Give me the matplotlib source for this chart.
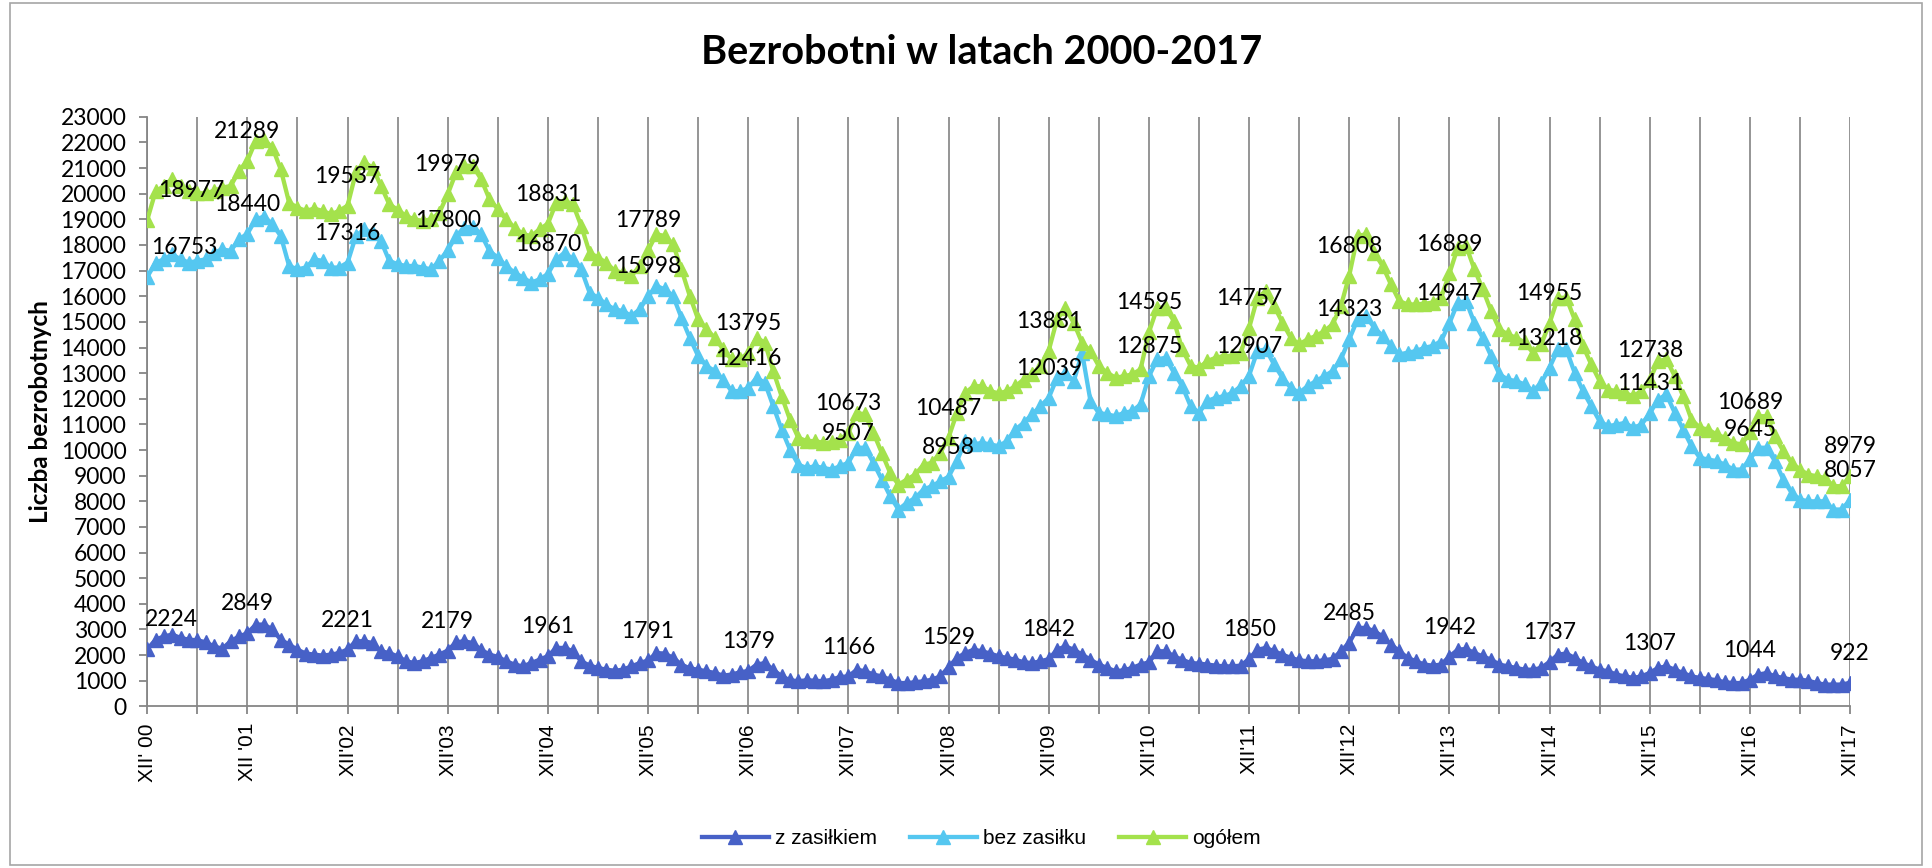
import numpy as np
import matplotlib
matplotlib.use('Agg')
import matplotlib.pyplot as plt
from matplotlib.lines import Line2D
from matplotlib.patches import Rectangle

# monthly values, XII 2000 .. XII 2017
z_zasilkiem = [
    2224, 2600, 2730, 2800, 2670, 2600, 2580, 2500, 2340, 2250, 2540, 2730,
    2849, 3190, 3190, 3000, 2600, 2410, 2210, 2060, 2020, 1980, 2020, 2080,
    2221, 2540, 2540, 2470, 2150, 2080, 1950, 1760, 1690, 1760, 1890, 2020,
    2179, 2500, 2540, 2470, 2210, 2020, 1930, 1760, 1630, 1560, 1690, 1820,
    1961, 2280, 2280, 2150, 1760, 1590, 1500, 1430, 1390, 1430, 1560, 1690,
    1791, 2080, 2060, 1890, 1630, 1480, 1430, 1370, 1300, 1200, 1240, 1330,
    1379, 1630, 1690, 1430, 1170, 1020, 980, 1020, 1000, 980, 1040, 1150,
    1166, 1430, 1370, 1240, 1170, 1040, 910, 910, 940, 980, 1040, 1170,
    1529, 1890, 2080, 2210, 2150, 2060, 1950, 1890, 1820, 1720, 1690, 1760,
    1842, 2210, 2340, 2210, 2020, 1820, 1630, 1500, 1370, 1410, 1500, 1630,
    1720, 2150, 2150, 1950, 1820, 1690, 1670, 1630, 1590, 1560, 1560, 1590,
    1850, 2210, 2280, 2150, 2020, 1890, 1800, 1760, 1760, 1800, 1850, 2150,
    2485, 3060, 3060, 2930, 2730, 2410, 2150, 1890, 1760, 1630, 1590, 1630,
    1942, 2210, 2240, 2080, 1950, 1820, 1630, 1560, 1500, 1430, 1430, 1500,
    1737, 2020, 2060, 1890, 1690, 1560, 1430, 1370, 1240, 1170, 1110, 1170,
    1307, 1500, 1560, 1430, 1300, 1170, 1110, 1070, 1020, 940, 910, 910,
    1044, 1240, 1300, 1170, 1110, 1040, 1040, 1000, 910, 850, 850, 850,
    922]

bez_zasilku = [
    16753, 17310, 17440, 17630, 17440, 17310, 17380, 17440, 17700, 17830, 17770, 18220,
    18440, 19000, 19110, 18810, 18350, 17180, 17050, 17120, 17440, 17380, 17120, 17120,
    17316, 18350, 18610, 18480, 18160, 17380, 17250, 17180, 17180, 17120, 17050, 17380,
    17800, 18350, 18680, 18720, 18420, 17770, 17500, 17180, 16920, 16730, 16530, 16660,
    16870, 17440, 17700, 17440, 17050, 16140, 15940, 15680, 15490, 15420, 15230, 15490,
    15998, 16400, 16270, 16010, 15160, 14380, 13670, 13280, 13080, 12750, 12300, 12300,
    12416, 12820, 12620, 11710, 10800, 10020, 9430, 9300, 9370, 9300, 9240, 9370,
    9507, 10090, 10090, 9500, 8850, 8200, 7680, 7940, 8130, 8460, 8590, 8780,
    8958, 9570, 10350, 10220, 10280, 10220, 10150, 10350, 10800, 11060, 11390, 11710,
    12039, 12820, 13020, 12690, 13800, 11910, 11450, 11390, 11320, 11450, 11520, 11780,
    12875, 13540, 13600, 13020, 12490, 11710, 11450, 11910, 12040, 12100, 12230, 12490,
    12907, 13860, 13930, 13340, 12820, 12430, 12230, 12490, 12690, 12880, 13080, 13540,
    14323, 15100, 15230, 14770, 14450, 14060, 13730, 13800, 13860, 13990, 14060, 14250,
    14947, 15750, 15810, 14960, 14380, 13670, 12950, 12750, 12690, 12560, 12300, 12620,
    13218, 13930, 13930, 13020, 12300, 11710, 11120, 10930, 10990, 11060, 10870, 10990,
    11431, 11970, 12170, 11450, 10800, 10150, 9700, 9630, 9570, 9430, 9240, 9240,
    9645, 10090, 10090, 9570, 8850, 8330, 8070, 8000, 8000, 8000, 7680, 7680,
    8057]

ogolem = [
    18977, 20090, 20300, 20590, 20300, 20110, 20020, 20020, 20110, 20240, 20300, 20890,
    21289, 22060, 22100, 21800, 20950, 19650, 19460, 19330, 19420, 19330, 19200, 19330,
    19537, 20830, 21220, 21020, 20300, 19590, 19370, 19130, 19000, 18940, 19000, 19260,
    19979, 20830, 21090, 21090, 20570, 19790, 19400, 19000, 18680, 18420, 18350, 18610,
    18831, 19650, 19720, 19590, 18740, 17700, 17510, 17310, 16990, 16920, 16790, 17180,
    17789, 18420, 18350, 18030, 17050, 16010, 15100, 14710, 14380, 13930, 13540, 13540,
    13795, 14380, 14190, 13080, 12100, 11190, 10480, 10350, 10350, 10280, 10300, 10410,
    10673, 11450, 11390, 10670, 9890, 9110, 8650, 8850, 9040, 9430, 9500, 9890,
    10487, 11450, 12230, 12490, 12490, 12300, 12210, 12300, 12490, 12750, 12950, 13280,
    13881, 15100, 15550, 14960, 14180, 13860, 13280, 13020, 12820, 12880, 12950, 13150,
    14595, 15550, 15550, 15030, 13930, 13280, 13210, 13470, 13600, 13670, 13670, 13800,
    14757, 15940, 16200, 15620, 14970, 14380, 14120, 14320, 14450, 14640, 14900, 15620,
    16808, 18350, 18420, 17700, 17180, 16460, 15810, 15680, 15680, 15710, 15750, 15940,
    16889, 17900, 17960, 17050, 16270, 15420, 14710, 14510, 14380, 14200, 13800, 14120,
    14955, 15940, 15940, 15100, 14060, 13340, 12690, 12360, 12300, 12230, 12100, 12300,
    12738, 13470, 13540, 12880, 12100, 11190, 10870, 10800, 10610, 10480, 10280, 10220,
    10689, 11320, 11320, 10540, 9960, 9500, 9240, 9040, 8980, 8910, 8590, 8590,
    8979]

year_labels = ["XII' 00", "XII '01", "XII'02", "XII'03", "XII'04", "XII'05",
               "XII'06", "XII'07", "XII'08", "XII'09", "XII'10", "XII'11",
               "XII'12", "XII'13", "XII'14", "XII'15", "XII'16", "XII'17"]

series = [
    ('z zasiłkiem', z_zasilkiem, '#4761C7'),
    ('bez zasiłku', bez_zasilku, '#55C7F0'),
    ('ogółem', ogolem, '#A4E24C'),
]

calibri = ['Lato', 'DejaVu Sans']
arial = ['Liberation Sans', 'DejaVu Sans']

fig = plt.figure(figsize=(19.32, 8.68), dpi=100)
ax = fig.add_axes([0.0762, 0.1862, 0.8814, 0.6792])

x = np.arange(len(ogolem))
for name, vals, col in series:
    ax.plot(x, vals, color=col, lw=3.1, marker='^', ms=9.5, mec=col, mfc=col,
            label=name, zorder=3)

# data labels every December
for name, vals, col in series:
    for i in range(0, len(vals), 12):
        dx, ha = 0, 'center'
        if i == 0:
            dx, ha = {'z zasiłkiem': -2, 'bez zasiłku': 3, 'ogółem': 8}[name], 'left'
        ax.annotate(str(vals[i]), (i, vals[i]), xytext=(dx, 16.5),
                    textcoords='offset points', ha=ha, va='baseline',
                    fontsize=16.5, family=calibri, color='black', zorder=5)

ax.set_xlim(0, len(ogolem) - 1)
ax.set_ylim(0, 23000)
ax.set_yticks(np.arange(0, 23001, 1000))
ax.set_yticklabels([str(v) for v in range(0, 23001, 1000)], family=calibri, fontsize=16.5)

xt = np.arange(0, len(ogolem), 6)
ax.set_xticks(xt)
ax.set_xticklabels([year_labels[k // 12] if k % 12 == 0 else '' for k in xt],
                   rotation=90, family=arial, fontsize=15)
ax.xaxis.grid(True, color='#8c8c8c', lw=1.3)
ax.yaxis.grid(False)
ax.tick_params(axis='both', direction='out', length=6, width=1.3, color='#868686')
ax.tick_params(axis='y', pad=9)
ax.tick_params(axis='x', pad=6)
for s in ['top', 'right']:
    ax.spines[s].set_visible(False)
for s in ['left', 'bottom']:
    ax.spines[s].set_color('#868686')
    ax.spines[s].set_linewidth(1.3)

ax.set_ylabel('Liczba bezrobotnych', family=calibri, fontsize=17.5, fontweight='bold', labelpad=6)
fig.text(0.508, 0.94, 'Bezrobotni w latach 2000-2017', ha='center', va='center',
         family=calibri, fontsize=28.5, fontweight='bold')

handles = [Line2D([], [], color=c, lw=3.1, marker='^', ms=9.5) for _, _, c in series]
fig.legend(handles, [n for n, _, _ in series], loc='center', bbox_to_anchor=(0.508, 0.034),
           ncol=3, frameon=False, prop={'family': arial, 'size': 15},
           handlelength=3.2, columnspacing=1.6, handletextpad=0.3)

fig.patches.append(Rectangle((0.005, 0.004), 0.99, 0.992, transform=fig.transFigure,
                             fill=False, edgecolor='#a6a6a6', lw=1.2))

fig.savefig('out.png', dpi=100)
